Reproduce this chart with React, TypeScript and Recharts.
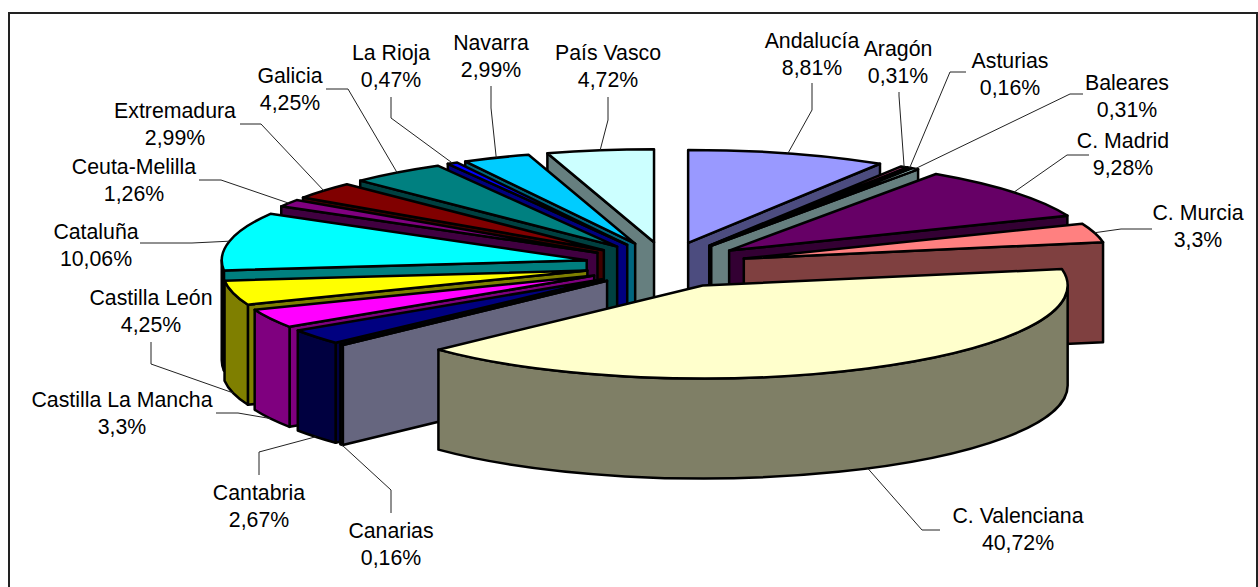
import React from 'react';
import { PieChart, Pie } from 'recharts';

// ── Chart data ────────────────────────────────────────────────────────────────
const REGIONS = [
    'Andalucía', 'Aragón', 'Asturias', 'Baleares', 'C. Madrid', 'C. Murcia',
    'C. Valenciana', 'Canarias', 'Cantabria', 'Castilla La Mancha', 'Castilla León',
    'Cataluña', 'Ceuta-Melilla', 'Extremadura', 'Galicia', 'La Rioja', 'Navarra', 'País Vasco',
];
const SHARES = [
    8.81, 0.31, 0.16, 0.31, 9.28, 3.3,
    40.72, 0.16, 2.67, 3.3, 4.25,
    10.06, 1.26, 2.99, 4.25, 0.47, 2.99, 4.72,
];
const COLOURS = [
    '#9999ff', '#993366', '#ffffcc', '#ccffff', '#660066', '#ff8080',
    '#ffffcc', '#ccccff', '#000080', '#ff00ff', '#ffff00',
    '#00ffff', '#800080', '#800000', '#008080', '#0000ff', '#00ccff', '#ccffff',
];

// ── Label placement: text centre, first line baseline, leader start and elbow ─
const LABEL_LAYOUT: Record<string, { x: number; y: number; from: number[]; elbow: number[] }> = {
    'Andalucía': { x: 812, y: 48, from: [812, 83], elbow: [812, 110] },
    'Aragón': { x: 898, y: 56, from: [899, 92], elbow: [899, 96] },
    'Asturias': { x: 1010, y: 68, from: [966, 72], elbow: [950, 72] },
    'Baleares': { x: 1127, y: 90, from: [1083, 94], elbow: [1070, 94] },
    'C. Madrid': { x: 1123, y: 148, from: [1089, 155], elbow: [1067, 155] },
    'C. Murcia': { x: 1198, y: 220, from: [1152, 229], elbow: [1121, 229] },
    'C. Valenciana': { x: 1018, y: 523, from: [940, 530], elbow: [922, 530] },
    'Canarias': { x: 391, y: 538, from: [391, 513], elbow: [391, 490] },
    'Cantabria': { x: 259, y: 500, from: [259, 475], elbow: [259, 452] },
    'Castilla La Mancha': { x: 122, y: 407, from: [216, 413], elbow: [238, 413] },
    'Castilla León': { x: 151, y: 305, from: [151, 342], elbow: [151, 364] },
    'Cataluña': { x: 96, y: 239, from: [140, 243], elbow: [192, 243] },
    'Ceuta-Melilla': { x: 134, y: 174, from: [199, 180], elbow: [221, 180] },
    'Extremadura': { x: 175, y: 118, from: [240, 124], elbow: [261, 124] },
    'Galicia': { x: 290, y: 83, from: [326, 89], elbow: [348, 89] },
    'La Rioja': { x: 391, y: 60, from: [391, 97], elbow: [391, 118] },
    'Navarra': { x: 491, y: 50, from: [491, 86], elbow: [491, 108] },
    'País Vasco': { x: 608, y: 60, from: [608, 97], elbow: [608, 120] },
};

const rows = REGIONS.map((name, i) => ({ name, value: SHARES[i] }));

// ── 3D projection of the pie ──────────────────────────────────────────────────
const RADIUS = 365;
const SQUASH = 93 / 365;
const DEPTH = 100;
const EXPLODE_X = 81;
const EXPLODE_Y = 23;

const rad = (deg: number) => (deg * Math.PI) / 180;

// half-brightness version of a slice colour, used on its walls
function shade(hex: string) {
    const n = parseInt(hex.slice(1), 16);
    const half = (v: number) => Math.floor(v / 2);
    return `rgb(${half((n >> 16) & 255)},${half((n >> 8) & 255)},${half(n & 255)})`;
}

// recharts angles run counter-clockwise from 3 o'clock, here clockwise from 12
const clock = (angle: number) => 90 - angle;

function apexOf(cx: number, cy: number, mid: number) {
    return { x: cx + EXPLODE_X * Math.sin(rad(mid)), y: cy - EXPLODE_Y * Math.cos(rad(mid)) };
}

function rimPoint(apex: { x: number; y: number }, r: number, deg: number, drop = 0) {
    return {
        x: apex.x + r * Math.sin(rad(deg)),
        y: apex.y - r * SQUASH * Math.cos(rad(deg)) + drop,
    };
}

function Slice3D({ cx, cy, outerRadius, startAngle, endAngle, name }: any) {
    const from = clock(startAngle);
    const to = clock(endAngle);
    const apex = apexOf(cx, cy, (from + to) / 2);
    const ry = outerRadius * SQUASH;
    const fill = COLOURS[REGIONS.indexOf(name)];
    const wall = shade(fill);
    const s = rimPoint(apex, outerRadius, from);
    const e = rimPoint(apex, outerRadius, to);
    const arcTo = (p: { x: number; y: number }, sweep: number, large = 0) =>
        `A ${outerRadius} ${ry} 0 ${large} ${sweep} ${p.x} ${p.y}`;

    const radialFace = (p: { x: number; y: number }) =>
        `M ${apex.x} ${apex.y} L ${p.x} ${p.y} L ${p.x} ${p.y + DEPTH} L ${apex.x} ${apex.y + DEPTH} Z`;

    // outer wall only exists on the half of the rim that faces the viewer
    const wallFrom = Math.max(from, 90);
    const wallTo = Math.min(to, 270);
    let outer = null;
    if (wallTo > wallFrom) {
        const a = rimPoint(apex, outerRadius, wallFrom);
        const b = rimPoint(apex, outerRadius, wallTo);
        const b2 = rimPoint(apex, outerRadius, wallTo, DEPTH);
        const a2 = rimPoint(apex, outerRadius, wallFrom, DEPTH);
        outer = `M ${a.x} ${a.y} ${arcTo(b, 1)} L ${b2.x} ${b2.y} ${arcTo(a2, 0)} Z`;
    }

    const common = { stroke: '#000', strokeWidth: 2.5, strokeLinejoin: 'round' as const };
    return (
        <g>
            {s.x < apex.x && <path d={radialFace(s)} fill={wall} {...common} />}
            {e.x > apex.x && <path d={radialFace(e)} fill={wall} {...common} />}
            {outer && <path d={outer} fill={wall} {...common} />}
            <path
                d={`M ${apex.x} ${apex.y} L ${s.x} ${s.y} ${arcTo(e, 1, to - from > 180 ? 1 : 0)} Z`}
                fill={fill}
                {...common}
            />
        </g>
    );
}

// ── Two-line label with its leader, which ends on the slice's mid rim ─────────
function RegionLabel({ cx, cy, outerRadius, midAngle, name, value }: any) {
    const layout = LABEL_LAYOUT[name];
    if (!layout) return null;
    const mid = clock(midAngle);
    const apex = apexOf(cx, cy, mid);
    const facesViewer = Math.cos(rad(mid)) < 0;
    const end = rimPoint(apex, outerRadius, mid, facesViewer ? DEPTH : 0);
    const text = `${String(value).replace('.', ',')}%`;
    return (
        <g>
            <polyline
                points={`${layout.from.join(',')} ${layout.elbow.join(',')} ${end.x},${end.y}`}
                fill="none"
                stroke="#222"
                strokeWidth={1}
            />
            <text
                x={layout.x}
                y={layout.y}
                textAnchor="middle"
                fontFamily="'Liberation Sans', Arial, sans-serif"
                fontSize={21.3}
                fill="#000"
            >
                <tspan x={layout.x}>{name}</tspan>
                <tspan x={layout.x} dy={27}>{text}</tspan>
            </text>
        </g>
    );
}

// Slices are painted from the back of the pie to the front
function paintOrder() {
    let acc = 0;
    const total = SHARES.reduce((a, b) => a + b, 0);
    const mids = SHARES.map((v, i) => {
        const mid = ((acc + v / 2) / total) * 360;
        acc += v;
        return { i, away: Math.min(mid, 360 - mid) };
    });
    return mids.sort((a, b) => a.away - b.away).map(m => m.i);
}

export default function App() {
    const order = paintOrder();
    return (
        <div style={{ position: 'absolute', left: 0, top: 0, width: 1258, height: 587, background: '#fff', overflow: 'hidden' }}>
            <div
                style={{
                    position: 'absolute', left: 8, top: 12, width: 1246, height: 575,
                    borderLeft: '2px solid #222', borderTop: '2px solid #222', borderRight: '2px solid #222',
                }}
            />
            <div style={{ position: 'absolute', left: 0, top: 0 }}>
                <PieChart width={1258} height={587} margin={{ top: 0, right: 0, bottom: 0, left: 0 }}>
                    {order.map(idx => (
                        <Pie
                            key={REGIONS[idx]}
                            data={rows}
                            dataKey="value"
                            nameKey="name"
                            cx={666}
                            cy={265}
                            innerRadius={0}
                            outerRadius={RADIUS}
                            startAngle={90}
                            endAngle={-270}
                            isAnimationActive={false}
                            labelLine={false}
                            label={(props: any) => (props.name === REGIONS[idx] ? <RegionLabel {...props} /> : <g />)}
                            shape={(props: any) => (props.name === REGIONS[idx] ? <Slice3D {...props} /> : <g />)}
                        />
                    ))}
                </PieChart>
            </div>
        </div>
    );
}
